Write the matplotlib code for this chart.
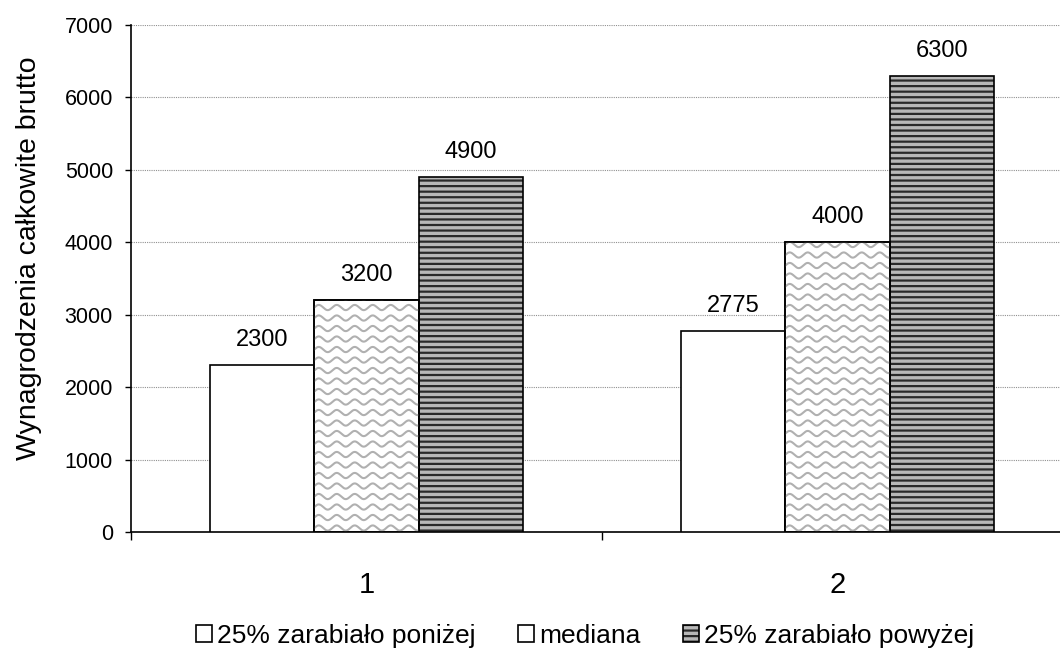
import matplotlib
matplotlib.use('Agg')
import numpy as np
import matplotlib.pyplot as plt
from matplotlib.ticker import FixedLocator, NullFormatter, FixedFormatter

plt.rcParams['font.family'] = ['Liberation Sans', 'DejaVu Sans']
plt.rcParams['hatch.linewidth'] = 1.6

groups = ['1', '2']
series_names = ['25% zarabiało poniżej', 'mediana', '25% zarabiało powyżej']
low_vals = [2300, 2775]
median_vals = [3200, 4000]
high_vals = [4900, 6300]
y_ticks = [0, 1000, 2000, 3000, 4000, 5000, 6000, 7000]

fig = plt.figure(figsize=(10.6, 6.54), dpi=100)
ax = fig.add_axes([0.1236, 0.1865, 0.8887, 0.7753])
ax.set_xlim(-0.5, 1.5)
ax.set_ylim(0, 7000)

x = np.arange(len(groups))
w = 0.222

b_low = ax.bar(x - w, low_vals, w, color='white', edgecolor='black',
               linewidth=1.2, label=series_names[0], zorder=3)
b_med = ax.bar(x, median_vals, w, color='white', edgecolor='black',
               linewidth=1.2, label=series_names[1], zorder=3)
b_high = ax.bar(x + w, high_vals, w, color='#b8b8b8', edgecolor='black',
                linewidth=1.2, hatch='---', label=series_names[2], zorder=3)
for p in b_high:
    p._hatch_color = matplotlib.colors.to_rgba('#2a2a2a')

# wavy fill for the median bars, drawn in pixel units and clipped to each bar
inv = ax.transData.inverted()
for p in b_med:
    x0, y0 = p.get_x(), p.get_y()
    x1, y1 = x0 + p.get_width(), y0 + p.get_height()
    (px0, py0), (px1, py1) = ax.transData.transform([(x0, y0), (x1, y1)])
    xs = np.linspace(px0 - 10, px1 + 10, 300)
    for row in np.arange(py0 + 4, py1 + 10, 10.5):
        ys = row + 2.6 * np.sin(2 * np.pi * (xs - px0) / 18.0)
        pts = inv.transform(np.column_stack([xs, ys]))
        ln, = ax.plot(pts[:, 0], pts[:, 1], color='#b0b0b0', lw=1.5, zorder=3.5)
        ln.set_clip_path(p)
    # redraw outline on top of the waves
    ax.bar(p.get_x() + p.get_width() / 2, p.get_height(), w, fill=False,
           edgecolor='black', linewidth=1.2, zorder=4)

for bars, vals in [(b_low, low_vals), (b_med, median_vals), (b_high, high_vals)]:
    for p, v in zip(bars, vals):
        ax.annotate(str(v), (p.get_x() + p.get_width() / 2, v),
                    xytext=(0, 18), textcoords='offset points',
                    ha='center', va='center', fontsize=17)

ax.set_yticks(y_ticks)
ax.tick_params(axis='y', labelsize=15.5, direction='out', length=4, width=1, pad=9)
ax.yaxis.grid(True, color='#909090', linestyle=(0, (1, 1)), linewidth=0.8, zorder=0)
ax.set_axisbelow(True)

ax.xaxis.set_major_locator(FixedLocator([-0.5, 0.5, 1.5]))
ax.xaxis.set_major_formatter(NullFormatter())
ax.xaxis.set_minor_locator(FixedLocator(x))
ax.xaxis.set_minor_formatter(FixedFormatter(groups))
ax.tick_params(axis='x', which='major', direction='out', length=6, width=1)
ax.tick_params(axis='x', which='minor', length=0, labelsize=21, pad=28)

ax.spines['top'].set_visible(False)
ax.spines['right'].set_visible(False)
ax.spines['left'].set_linewidth(1.2)
ax.spines['bottom'].set_linewidth(1.2)

ax.set_ylabel('Wynagrodzenia całkowite brutto', fontsize=20.5)
ax.yaxis.set_label_coords(-0.0945, 0.54)

fig.legend(handles=[b_low, b_med, b_high], labels=series_names,
           loc='center', bbox_to_anchor=(0.552, 0.028), ncol=3, frameon=False,
           fontsize=19, handlelength=0.6, handleheight=0.6, handletextpad=0.2,
           columnspacing=1.6)

fig.savefig('out.png', dpi=100)
